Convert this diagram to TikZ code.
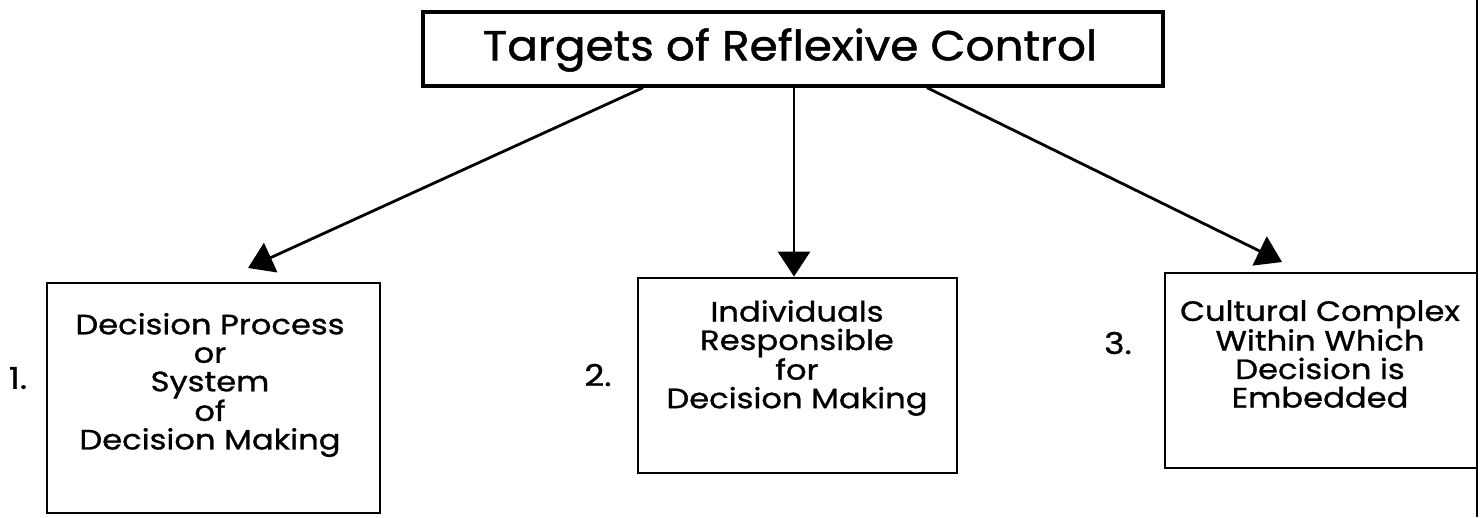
\documentclass[tikz,border=0pt]{standalone}
\usepackage{fontspec}
\setmainfont{Poppins}
\newfontfamily\leroyfont{Poppins}[FakeStretch=1.15,FakeBold=1]
\newfontfamily\leroytitle{Poppins}[FakeStretch=1.08,FakeBold=1.2]
\usetikzlibrary{arrows.meta}
\begin{document}
\begin{tikzpicture}[x=1pt,y=-1pt,
  box/.style={draw,line width=2.8pt,rectangle,inner sep=0pt},
  titlebox/.style={draw,line width=3.4pt,rectangle,inner sep=0pt},
  txt/.style={align=center,font=\leroyfont\fontsize{28}{28.5}\selectfont,inner sep=0pt},
  ttl/.style={font=\leroytitle\fontsize{42}{44}\selectfont,inner sep=0pt},
  num/.style={font=\leroyfont\fontsize{30}{30}\selectfont,inner sep=0pt},
  arr/.style={line width=2.8pt,-{Triangle[width=32pt,length=25pt]}}]
\useasboundingbox[fill=white] (0,0) rectangle (1480,517);
% title
\node[titlebox,minimum width=740pt,minimum height=74pt] (title) at (793,49) {};
\node[ttl] (ttltext) at (790,50) {Targets of Reflexive Control};
% boxes
\node[box,minimum width=333pt,minimum height=230pt] (b1) at (213.5,398) {};
\node[box,minimum width=319pt,minimum height=195pt] (b2) at (797.5,375.5) {};
\node[box,minimum width=312pt,minimum height=195pt] (b3) at (1321,370.5) {};
\node[txt] (t1) at (210,385) {Decision Process\\or\\System\\of\\Decision Making};
\node[txt] (t2) at (797,358) {Individuals\\Responsible\\for\\Decision Making};
\node[txt] (t3) at (1320,354) {Cultural Complex\\Within Which\\Decision is\\Embedded};
% numbers
\node[num] (n1) at (18,378) {1.};
\node[num] (n2) at (598,375) {2.};
\node[num] (n3) at (1118,343) {3.};
% right edge line
\coordinate (rtop) at (1477,0);
\coordinate (rbot) at (1477,517);
\draw[line width=2.8pt] (rtop) -- (rbot);
% arrows
\coordinate (s1) at (title.south -| 643,0);
\coordinate (s2) at (title.south -| 794,0);
\coordinate (s3) at (title.south -| 927,0);
\coordinate (e1) at (248,268);
\coordinate (e2) at (b2.north -| 794,0);
\coordinate (e3) at (1282,262);
\draw[arr] (s1) -- (e1);
\draw[arr] (s2) -- (e2);
\draw[arr] (s3) -- (e3);
\end{tikzpicture}
\end{document}
